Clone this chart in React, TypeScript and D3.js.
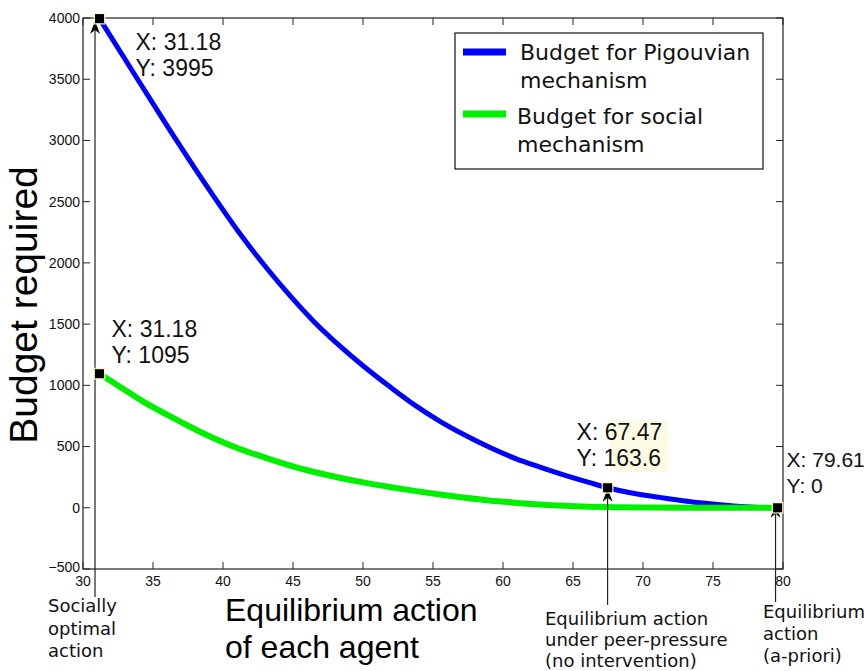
import * as d3 from 'd3';
import React from 'react';

// values
const pigouX = [31.18, 33.9, 36.4, 39.3, 41.2, 43.1, 44.8, 46.5, 48.36, 50, 51.9, 53.7, 55.5, 57.3, 59.07, 60.9, 62.64, 64.1, 66.2, 67.47, 69, 71.2, 73, 74.8, 76.5, 78, 79.61];
const pigouY = [3995, 3500, 3050, 2550, 2240, 1960, 1730, 1520, 1320, 1160, 990, 838, 706, 592, 492, 402, 332, 277, 205, 163.6, 125, 85, 55, 32, 15, 5, 0];

const socialX = [31.18, 32, 33.3, 34.55, 36, 37.5, 39.3, 41.2, 43, 44.8, 46.5, 48.4, 50.2, 52, 53.8, 55.5, 57.3, 59, 60.8, 62.6, 64.4, 66.2, 68, 70, 73, 76, 79.61];
const socialY = [1095, 1035, 940, 850, 760, 670, 570, 480, 410, 345, 292, 243, 203, 168, 136, 108, 82, 60, 42, 27, 16, 9, 4, 2, 0, 0, 0];

const xTicks = [30, 35, 40, 45, 50, 55, 60, 65, 70, 75, 80];
const yTicks = [-500, 0, 500, 1000, 1500, 2000, 2500, 3000, 3500, 4000];

const tipX = [31.18, 31.18, 67.47, 79.61];
const tipY = [3995, 1095, 163.6, 0];
const tipXText = ['X: 31.18', 'X: 31.18', 'X: 67.47', 'X: 79.61'];
const tipYText = ['Y: 3995', 'Y: 1095', 'Y: 163.6', 'Y: 0'];

const legendNames = [['Budget for Pigouvian', 'mechanism'], ['Budget for social', 'mechanism']];
const seriesColors = ['#0000ff', '#00f000'];

const sans = '"Liberation Sans", Arial, Helvetica, sans-serif';
const dejavu = '"DejaVu Sans", sans-serif';

export default function App() {
  const W = 864, H = 671;
  const left = 83, top = 18, right = 783, bottom = 569;

  const x = d3.scaleLinear().domain([30, 80]).range([left, right]);
  const y = d3.scaleLinear().domain([-500, 4000]).range([bottom, top]);

  const line = d3.line<[number, number]>()
    .x(d => x(d[0]))
    .y(d => y(d[1]))
    .curve(d3.curveMonotoneX);

  const pigou = pigouX.map((v, i) => [v, pigouY[i]] as [number, number]);
  const social = socialX.map((v, i) => [v, socialY[i]] as [number, number]);

  // where each data tip label sits relative to its marker
  const tipOffsets = [[36, 31, 23], [12, -37, 23], [-31, -48, 23], [9, -41, 21]];

  const arrow = (ax: number, ay: number) =>
    `M${ax},${ay} L${ax - 5},${ay + 13} L${ax},${ay + 9} L${ax + 5},${ay + 13} Z`;

  return (
    <svg width={W} height={H} style={{ position: 'absolute', left: 0, top: 0, background: '#fff' }}>
      <rect x={0} y={0} width={W} height={H} fill="#fff" />

      {/* pale yellow behind the peer-pressure tip */}
      <rect x={610} y={420} width={58} height={52} fill="#fdfbe4" />

      {/* curves */}
      <path d={line(pigou) || ''} fill="none" stroke={seriesColors[0]} strokeWidth={5} />
      <path d={line(social) || ''} fill="none" stroke={seriesColors[1]} strokeWidth={6} />

      {/* box */}
      <rect x={left} y={top} width={right - left} height={bottom - top} fill="none" stroke="#222" strokeWidth={1.2} />

      {/* ticks, inward on all four sides */}
      {xTicks.map(t => (
        <g key={'x' + t}>
          <line x1={x(t)} x2={x(t)} y1={bottom} y2={bottom - 7} stroke="#222" />
          <line x1={x(t)} x2={x(t)} y1={top} y2={top + 7} stroke="#222" />
          <text x={x(t)} y={586} textAnchor="middle" fontFamily={sans} fontSize={14} fill="#111">{t}</text>
        </g>
      ))}
      {yTicks.map(t => (
        <g key={'y' + t}>
          <line x1={left} x2={left + 7} y1={y(t)} y2={y(t)} stroke="#222" />
          <line x1={right} x2={right - 7} y1={y(t)} y2={y(t)} stroke="#222" />
          <text x={80} y={t === -500 ? y(t) - 2 : y(t)} dy="0.35em" textAnchor="end" fontFamily={sans} fontSize={14} fill="#111">
            {t < 0 ? '\u2212' + Math.abs(t) : t}
          </text>
        </g>
      ))}

      {/* annotation arrows */}
      <line x1={x(tipX[0]) - 4.5} x2={x(tipX[0]) - 4.5} y1={26} y2={597} stroke="#222" strokeWidth={1.2} />
      <path d={arrow(x(tipX[0]) - 4.5, 21)} fill="#000" />
      <line x1={x(tipX[2])} x2={x(tipX[2])} y1={492} y2={605} stroke="#222" strokeWidth={1.2} />
      <path d={arrow(x(tipX[2]), y(tipY[2]) + 1)} fill="#000" />
      <line x1={x(tipX[3]) - 2} x2={x(tipX[3]) - 2} y1={512} y2={602} stroke="#222" strokeWidth={1.2} />
      <path d={arrow(x(tipX[3]) - 2, y(tipY[3]) - 3)} fill="#000" />

      {/* data tip markers and labels */}
      {tipX.map((tx, i) => {
        const px = x(tx), py = y(tipY[i]);
        const [dx, dy, fs] = tipOffsets[i];
        return (
          <g key={'tip' + i}>
            <rect x={px - 6} y={py - 6} width={12} height={12} fill="#fff6c0" opacity={0.8} />
            <rect x={px - 4.5} y={py - 4.5} width={9} height={9} fill="#000" />
            <text x={px + dx} y={py + dy} fontFamily={sans} fontSize={fs} fill="#111">{tipXText[i]}</text>
            <text x={px + dx} y={py + dy + 26} fontFamily={sans} fontSize={fs} fill="#111">{tipYText[i]}</text>
          </g>
        );
      })}

      {/* legend */}
      <rect x={455} y={33} width={308} height={136} fill="#fff" stroke="#111" strokeWidth={1.2} />
      {legendNames.map((lines, i) => (
        <g key={'leg' + i}>
          <line x1={463} x2={506} y1={52 + i * 62} y2={52 + i * 62} stroke={seriesColors[i]} strokeWidth={7} />
          {lines.map((s, j) => (
            <text key={j} x={i === 0 ? 520 : 517} y={60 + i * 64 + j * 28} fontFamily={dejavu} fontSize={22} fill="#111">{s}</text>
          ))}
        </g>
      ))}

      {/* axis titles */}
      <text transform="translate(37,305) rotate(-90)" textAnchor="middle" fontFamily={sans} fontSize={39} fill="#000">Budget required</text>
      <text x={225} y={621} fontFamily={sans} fontSize={32} fill="#000">Equilibrium action</text>
      <text x={225} y={658} fontFamily={sans} fontSize={32} fill="#000">of each agent</text>

      {/* annotations under the axis */}
      {['Socially', 'optimal', 'action'].map((s, i) => (
        <text key={'a' + i} x={48} y={612 + i * 22.5} fontFamily={dejavu} fontSize={18} fill="#111">{s}</text>
      ))}
      {['Equilibrium action', 'under peer-pressure', '(no intervention)'].map((s, i) => (
        <text key={'b' + i} x={545} y={625 + i * 21} fontFamily={dejavu} fontSize={18} fill="#111">{s}</text>
      ))}
      {['Equilibrium', 'action', '(a-priori)'].map((s, i) => (
        <text key={'c' + i} x={763} y={618 + i * 22} fontFamily={dejavu} fontSize={18} fill="#111">{s}</text>
      ))}
    </svg>
  );
}
